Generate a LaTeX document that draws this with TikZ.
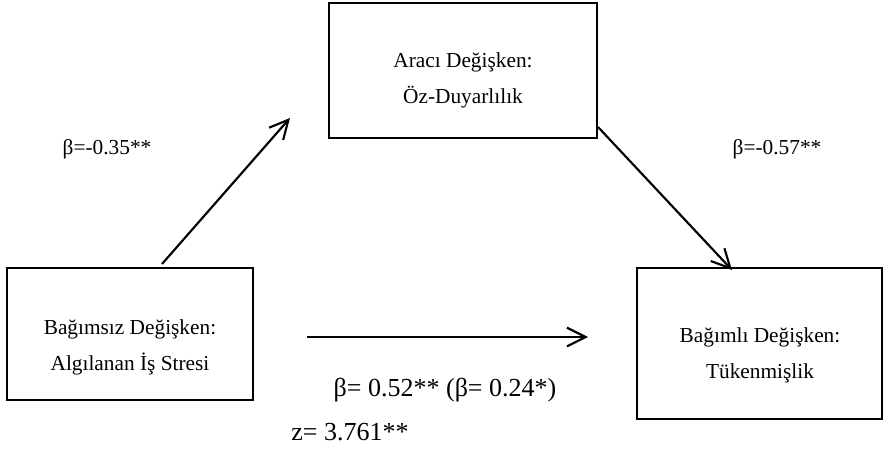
\documentclass[tikz,border=0pt]{standalone}
\usepackage{fontspec}
\setmainfont{Liberation Serif}
\usetikzlibrary{arrows.meta,fit}

\tikzset{
  boxline/.style={draw, line width=0.9pt, inner sep=0pt},
  boxtext/.style={align=center, font=\fontsize{16}{27}\selectfont},
  coef/.style={font=\fontsize{16}{19}\selectfont},
  bigcoef/.style={font=\fontsize{19.5}{23}\selectfont},
  path arrow/.style={line width=1.6pt, -{Straight Barb[length=14pt,width=14pt,line width=1.6pt]}}
}

\begin{document}
\begin{tikzpicture}[x=0.75pt, y=-0.75pt]
\useasboundingbox (0,0) rectangle (887,467);

% the three boxes
\node[boxline, fit={(329,3) (597,138)}] (med) {};
\node[boxline, fit={(7,268) (253,400)}] (iv) {};
\node[boxline, fit={(637,268) (882,419)}] (dv) {};

\node[boxtext] (medtxt) at (463,80) {Aracı Değişken:\\Öz-Duyarlılık};
\node[boxtext] (ivtxt) at (130,347) {Bağımsız Değişken:\\Algılanan İş Stresi};
\node[boxtext] (dvtxt) at (760,355) {Bağımlı Değişken:\\Tükenmişlik};

% arrow ends
\coordinate (a) at (162,264);
\coordinate (b) at (290,118);
\coordinate (c) at (598,127);
\coordinate (d) at (732,270);
\coordinate (e) at (307,337);
\coordinate (f) at (588,337);

\draw[path arrow] (a) -- (b);
\draw[path arrow] (c) -- (d);
\draw[path arrow] (e) -- (f);

% coefficients
\node[coef] (ca) at (107,149) {β=-0.35**};
\node[coef] (cb) at (777,149) {β=-0.57**};
\node[bigcoef] (cc) at (445,390) {β= 0.52** (β= 0.24*)};
\node[bigcoef] (cz) at (350,432) {z= 3.761**};
\end{tikzpicture}
\end{document}
